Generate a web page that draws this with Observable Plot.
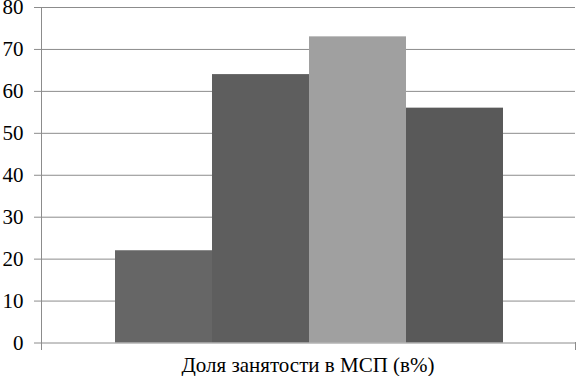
<!DOCTYPE html>
<html>
<head>
<meta charset="utf-8">
<script src="https://cdn.jsdelivr.net/npm/d3@7"></script>
<script src="https://cdn.jsdelivr.net/npm/@observablehq/plot@0.6"></script>
<style>
  html, body { margin: 0; padding: 0; background: #fff; }
  #chart { width: 576px; }
  #xlabel {
    width: 534px; margin-left: 41px; margin-top: 5px;
    text-align: center; font-family: "Liberation Serif", serif; font-size: 21px; line-height: 21px; color: #000;
  }
</style>
</head>
<body>
<div id="chart"></div>
<div id="xlabel"></div>
<script>
const categories = ["Ряд 1", "Ряд 2", "Ряд 3", "Ряд 4"];
const values = [22, 64, 73, 56];
const colors = ["#666666", "#5e5e5e", "#a0a0a0", "#595959"];
const yTicks = [0, 10, 20, 30, 40, 50, 60, 70, 80];
const xLabel = "Доля занятости в МСП (в%)";

const data = categories.map((c, i) => ({cat: c, value: values[i]}));
const FONT = "Liberation Serif";

const chart = Plot.plot({
  width: 576,
  height: 350,
  marginLeft: 41,
  marginRight: 1,
  marginTop: 7,
  marginBottom: 7.5,
  style: {fontFamily: FONT, fontSize: "21px", background: "#fff", color: "#000"},
  x: {domain: categories, padding: 0, insetLeft: 74, insetRight: 72, axis: null},
  y: {domain: [0, 80], ticks: yTicks},
  color: {domain: categories, range: colors},
  marks: [
    Plot.ruleY(yTicks.filter(d => d > 0), {stroke: "#8c8c8c", strokeWidth: 1}),
    Plot.barY(data, {x: "cat", y: "value", fill: "cat"}),
    Plot.ruleY([0], {stroke: "#8c8c8c", strokeWidth: 1}),
    Plot.frame({anchor: "left", stroke: "#8c8c8c", insetBottom: -7}),
    Plot.frame({anchor: "right", stroke: "#8c8c8c", insetTop: 335, insetBottom: -7}),
    Plot.axisY({ticks: yTicks, tickSize: 7, tickPadding: 11, stroke: "#8c8c8c", strokeOpacity: 1, label: null, fill: "#000", fontFamily: FONT, fontSize: 21})
  ]
});
chart.setAttribute("font-family", FONT + ", serif");
document.getElementById("chart").appendChild(chart);
document.getElementById("xlabel").textContent = xLabel;
</script>
</body>
</html>
